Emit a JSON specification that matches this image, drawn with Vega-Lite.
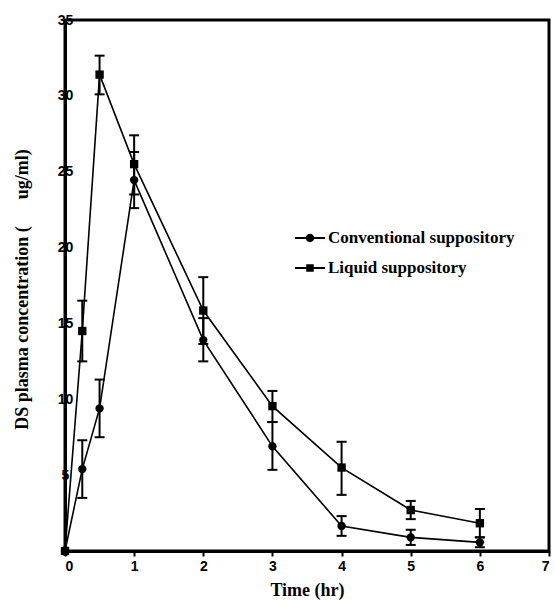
{
  "$schema": "https://vega.github.io/schema/vega-lite/v6.json",
  "width": 484,
  "height": 531,
  "autosize": {"type": "none"},
  "padding": {"left": 65, "top": 20, "right": 6, "bottom": 56},
  "background": "white",
  "config": {
    "view": {"stroke": "black", "strokeWidth": 3},
    "axis": {
      "grid": false,
      "domainColor": "black",
      "domainWidth": 3,
      "tickColor": "black",
      "tickWidth": 2,
      "labelColor": "black",
      "labelFont": "Liberation Sans",
      "labelFontWeight": "bold",
      "labelFontSize": 14,
      "titleColor": "black",
      "titleFont": "Liberation Serif",
      "titleFontWeight": "bold",
      "titleFontSize": 18
    },
    "legend": {
      "labelFont": "Liberation Serif",
      "labelFontWeight": "bold",
      "labelFontSize": 17,
      "labelColor": "black",
      "labelLimit": 400
    }
  },
  "data": {
    "values": [
      {"series": "Conventional suppository", "time": 0, "mean": 0, "lo": null, "hi": null},
      {"series": "Conventional suppository", "time": 0.25, "mean": 5.4, "lo": 3.5, "hi": 7.3},
      {"series": "Conventional suppository", "time": 0.5, "mean": 9.4, "lo": 7.5, "hi": 11.3},
      {"series": "Conventional suppository", "time": 1, "mean": 24.45, "lo": 22.6, "hi": 26.3},
      {"series": "Conventional suppository", "time": 2, "mean": 13.9, "lo": 12.5, "hi": 15.35},
      {"series": "Conventional suppository", "time": 3, "mean": 6.9, "lo": 5.35, "hi": 8.5},
      {"series": "Conventional suppository", "time": 4, "mean": 1.65, "lo": 1.0, "hi": 2.3},
      {"series": "Conventional suppository", "time": 5, "mean": 0.9, "lo": 0.4, "hi": 1.4},
      {"series": "Conventional suppository", "time": 6, "mean": 0.57, "lo": 0.25, "hi": 0.9},
      {"series": "Liquid suppository", "time": 0, "mean": 0, "lo": null, "hi": null},
      {"series": "Liquid suppository", "time": 0.25, "mean": 14.5, "lo": 12.5, "hi": 16.5},
      {"series": "Liquid suppository", "time": 0.5, "mean": 31.4, "lo": 30.1, "hi": 32.65},
      {"series": "Liquid suppository", "time": 1, "mean": 25.5, "lo": 23.5, "hi": 27.4},
      {"series": "Liquid suppository", "time": 2, "mean": 15.85, "lo": 13.65, "hi": 18.05},
      {"series": "Liquid suppository", "time": 3, "mean": 9.55, "lo": 8.5, "hi": 10.55},
      {"series": "Liquid suppository", "time": 4, "mean": 5.5, "lo": 3.7, "hi": 7.2},
      {"series": "Liquid suppository", "time": 5, "mean": 2.7, "lo": 2.1, "hi": 3.3},
      {"series": "Liquid suppository", "time": 6, "mean": 1.83, "lo": 0.9, "hi": 2.77}
    ]
  },
  "encoding": {
    "x": {
      "field": "time",
      "type": "quantitative",
      "scale": {"domain": [0, 7], "nice": false},
      "axis": {
        "title": "Time (hr)",
        "values": [0, 1, 2, 3, 4, 5, 6, 7],
        "tickSize": 5,
        "labelPadding": 3,
        "titlePadding": 8
      }
    }
  },
  "layer": [
    {
      "mark": {"type": "line", "color": "black", "strokeWidth": 1.6},
      "encoding": {
        "y": {
          "field": "mean",
          "type": "quantitative",
          "scale": {"domain": [0, 35], "nice": false},
          "axis": {
            "title": "DS plasma concentration (\u00a0\u00a0\u00a0\u00a0\u00a0\u00a0ug/ml)",
            "values": [0, 5, 10, 15, 20, 25, 30, 35],
            "tickSize": 0,
            "labelPadding": 0,
            "labelAlign": "center",
            "titleX": -43,
            "titleY": 269,
            "titleAngle": -90,
            "titleAlign": "center",
            "titleBaseline": "middle"
          }
        },
        "detail": {"field": "series"}
      }
    },
    {
      "mark": {"type": "rule", "color": "black", "strokeWidth": 2},
      "encoding": {
        "y": {"field": "lo", "type": "quantitative"},
        "y2": {"field": "hi"}
      }
    },
    {
      "mark": {"type": "tick", "orient": "horizontal", "color": "black", "size": 10, "thickness": 2, "opacity": 1},
      "encoding": {"y": {"field": "lo", "type": "quantitative"}}
    },
    {
      "mark": {"type": "tick", "orient": "horizontal", "color": "black", "size": 10, "thickness": 2, "opacity": 1},
      "encoding": {"y": {"field": "hi", "type": "quantitative"}}
    },
    {
      "mark": {"type": "point", "filled": true, "color": "black", "size": 70, "opacity": 1},
      "encoding": {
        "y": {"field": "mean", "type": "quantitative"},
        "shape": {
          "field": "series",
          "type": "nominal",
          "scale": {"domain": ["Conventional suppository", "Liquid suppository"], "range": ["circle", "square"]},
          "legend": null
        }
      }
    },
    {
      "transform": [{"filter": "false"}],
      "mark": {"type": "point", "filled": true, "color": "black", "size": 900, "opacity": 1},
      "encoding": {
        "y": {"field": "mean", "type": "quantitative"},
        "shape": {
          "field": "series",
          "type": "nominal",
          "scale": {
            "domain": ["Conventional suppository", "Liquid suppository"],
            "range": [
              "M-1,-0.07H-0.26V0.07H-1Z M0.26,-0.07H1V0.07H0.26Z M-0.28,0A0.28,0.28 0 1,1 0.28,0A0.28,0.28 0 1,1 -0.28,0Z",
              "M-1,-0.07H-0.24V0.07H-1Z M0.24,-0.07H1V0.07H0.24Z M-0.25,-0.25H0.25V0.25H-0.25Z"
            ]
          },
          "legend": {
            "title": null,
            "orient": "none",
            "legendX": 230,
            "legendY": 203,
            "symbolSize": 900,
            "symbolFillColor": "black",
            "symbolStrokeWidth": 0,
            "symbolOpacity": 1,
            "labelOffset": 3,
            "rowPadding": 7,
            "padding": 0
          }
        }
      }
    }
  ],
  "resolve": {"scale": {"shape": "independent"}, "legend": {"shape": "independent"}}
}
